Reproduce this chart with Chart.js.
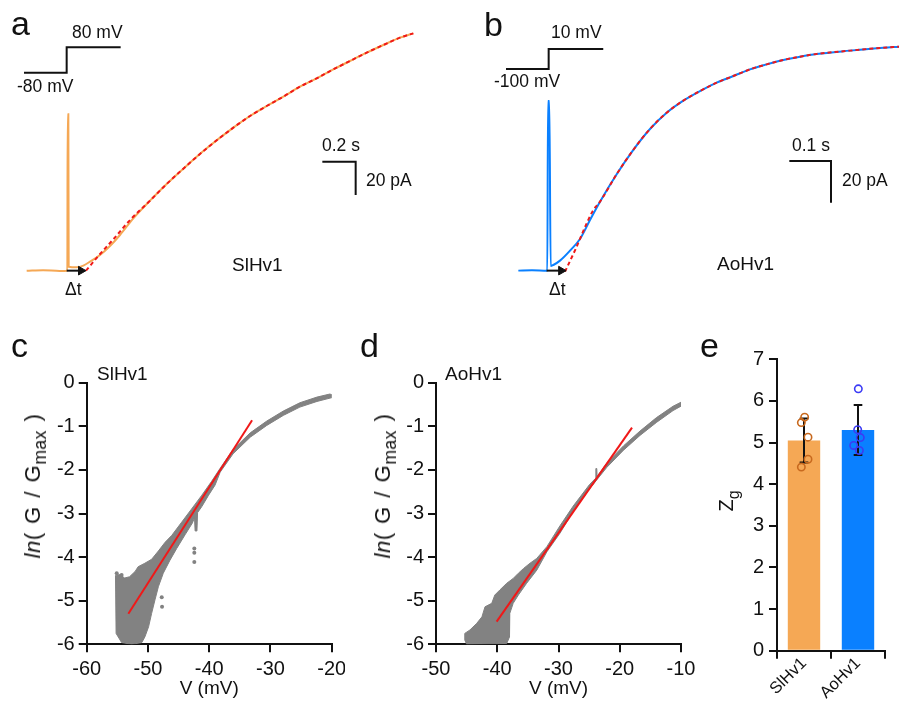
<!DOCTYPE html>
<html>
<head>
<meta charset="utf-8">
<script src="https://cdn.jsdelivr.net/npm/chart.js@4.4.1/dist/chart.umd.min.js"></script>
<style>
  body { margin: 0; background: #fff; width: 899px; height: 704px; position: relative; overflow: hidden;
         font-family: "Liberation Sans", Arial, sans-serif; color: #111; }
  canvas { position: absolute; }
  .t { position: absolute; white-space: nowrap; font-size: 17.5px; line-height: 1; transform: translateY(-50%); }
  .L { font-size: 34px; }
  .n { font-size: 19px; }
  .rot { transform: translate(-50%, -50%) rotate(-90deg); }
  .ylab { font-size: 22px; word-spacing: 2px; letter-spacing: 0.5px; }
  sub { font-size: 0.8em; vertical-align: -0.35em; line-height: 0; }
</style>
</head>
<body>
<canvas id="pa" width="440" height="310" style="left:0;top:0"></canvas>
<canvas id="pb" width="449" height="310" style="left:450px;top:0"></canvas>
<canvas id="pc" width="345" height="344" style="left:0;top:360px"></canvas>
<canvas id="pd" width="360" height="344" style="left:350px;top:360px"></canvas>
<canvas id="pe" width="209" height="374" style="left:690px;top:330px"></canvas>

<div class="t L" style="left:11px;top:23px">a</div>
<div class="t" style="left:72px;top:33px">80 mV</div>
<div class="t" style="left:17px;top:87px">-80 mV</div>
<div class="t" style="left:322px;top:146px">0.2 s</div>
<div class="t" style="left:366px;top:181px">20 pA</div>
<div class="t n" style="left:232px;top:264px">SlHv1</div>
<div class="t" style="left:65px;top:290px">Δt</div>

<div class="t L" style="left:484px;top:24px">b</div>
<div class="t" style="left:551px;top:33px">10 mV</div>
<div class="t" style="left:494px;top:82px">-100 mV</div>
<div class="t" style="left:792px;top:146px">0.1 s</div>
<div class="t" style="left:842px;top:181px">20 pA</div>
<div class="t n" style="left:717px;top:263px">AoHv1</div>
<div class="t" style="left:549px;top:290px">Δt</div>

<div class="t L" style="left:11px;top:345px">c</div>
<div class="t n" style="left:97px;top:373px">SlHv1</div>
<div class="t rot ylab" style="left:33px;top:486px"><i>ln</i>( G / G<sub>max</sub> )</div>

<div class="t L" style="left:360px;top:345px">d</div>
<div class="t n" style="left:445px;top:373px">AoHv1</div>
<div class="t rot ylab" style="left:383px;top:486px"><i>ln</i>( G / G<sub>max</sub> )</div>

<div class="t L" style="left:700px;top:345px">e</div>
<div class="t rot" style="left:726px;top:501px;font-size:20px">Z<sub>g</sub></div>

<script>
// ---- a: SlHv1 current trace (s, pA)
const slTime = [-0.248, -0.15, -0.05, -0.004, -0.002, 0.002, 0.004, 0.052, 0.092, 0.132, 0.192, 0.252, 0.312,
  0.392, 0.492, 0.592, 0.712, 0.832, 0.992, 1.092, 1.192, 1.292, 1.392, 1.492, 1.592, 1.692, 1.792, 1.892, 1.992, 2.072];
const slCurrent = [0, 0.3, -0.2, 0, 93.8, 93.8, 2.4, 2.0, 3.0, 5.4, 9.4, 14.8, 21.4,
  31.4, 42, 52, 63, 73.4, 85.8, 92.8, 98.8, 104.4, 110.4, 115.4, 120.8, 125.8, 130.8, 135.4, 139.8, 142.4];
const slFitTime = [0.108, 0.192, 0.272, 0.372, 0.492, 0.592, 0.712, 0.832, 0.992, 1.092, 1.192, 1.292,
  1.392, 1.492, 1.592, 1.692, 1.792, 1.892, 1.992, 2.072];
const slFitCurrent = [0, 10, 18.8, 30.4, 42, 52, 63, 73.4, 85.8, 92.8, 98.8, 104.4,
  110.4, 115.4, 120.8, 125.8, 130.8, 135.4, 139.8, 142.4];
const slStepTime = [-0.264, -0.008, -0.008, 0.316];
const slStepLevel = [118.8, 118.8, 134.0, 134.0];
const slBarTime = [1.526, 1.726, 1.726];
const slBarCurrent = [65.4, 65.4, 45.4];
const slArrowTime = [-0.008, 0.078];

// ---- b: AoHv1 current trace (s, pA)
const aoTime = [-0.0728, -0.04, -0.0032, -0.0016, 0.0016, 0.0048, 0.0112, 0.0272, 0.0512, 0.0752, 0.0992, 0.1232,
  0.1632, 0.2032, 0.2432, 0.2832, 0.3232, 0.3632, 0.4032, 0.4432, 0.4832, 0.5232, 0.5632, 0.6032, 0.6432, 0.7232, 0.8032, 0.8408];
const aoCurrent = [0, 0.2, 0, 81.4, 81.4, 2.2, 2.7, 4.8, 9.6, 15.2, 24.3, 33.1,
  46.3, 58.0, 68.0, 75.8, 81.6, 86.2, 90.2, 93.4, 96.6, 99.0, 101.1, 102.7, 104.0, 105.6, 107.0, 107.5];
const aoFitTime = [0.0392, 0.0672, 0.0912, 0.1072, 0.1232, 0.1632, 0.2032, 0.2432, 0.2832, 0.3232, 0.3632, 0.4032,
  0.4432, 0.4832, 0.5232, 0.5632, 0.6032, 0.6432, 0.7232, 0.8032, 0.8408];
const aoFitCurrent = [-0.5, 11.5, 22.7, 29.1, 33.1, 46.3, 58.0, 68.0, 75.8, 81.6, 86.2, 90.2,
  93.4, 96.6, 99.0, 101.1, 102.7, 104.0, 105.6, 107.0, 107.5];
const aoStepTime = [-0.1024, 0, 0, 0.131];
const aoStepLevel = [96.8, 96.8, 106.4, 106.4];
const aoBarTime = [0.5776, 0.6776, 0.6776];
const aoBarCurrent = [52.64, 52.64, 32.64];
const aoArrowTime = [-0.005, 0.03];

// ---- c: SlHv1 ln(G/Gmax) vs V, outline of the point cloud
const slCloudV = [-55.3, -54.6, -53.8, -53.0, -52.1, -51.6, -50.5, -49.4, -48.3, -47.2, -46.1, -44.5, -42.9, -41.2,
  -39.6, -38.2, -36.1, -33.3, -30.6, -27.9, -25.2, -22.4, -20.3, -19.9,
  -19.9, -22.4, -25.2, -27.9, -30.6, -33.3, -36.1, -38.2, -39.05, -40.1, -41.2, -41.9, -42.0, -42.3, -42.4,
  -42.75, -43.95, -45.3, -46.4, -47.5, -48.3, -48.85, -49.4, -49.9, -50.5, -51.0, -52.65, -54.3, -55.2, -55.3];
const slCloudLnG = [-4.42, -4.40, -4.48, -4.45, -4.33, -4.22, -4.14, -4.05, -3.86, -3.66, -3.50, -3.20, -2.90, -2.58,
  -2.26, -1.96, -1.53, -1.15, -0.88, -0.65, -0.46, -0.33, -0.26, -0.28,
  -0.34, -0.43, -0.56, -0.75, -0.98, -1.25, -1.63, -2.05, -2.35, -2.58, -2.84, -2.98, -3.40, -3.40, -3.10,
  -3.22, -3.49, -3.80, -4.07, -4.37, -4.68, -4.98, -5.29, -5.60, -5.83, -5.96, -6.0, -5.96, -5.75, -4.42];
const slDotsV = [-42.43, -42.43, -42.43, -47.75, -47.7, -55.1, -54.3];
const slDotsLnG = [-3.80, -3.90, -4.11, -4.92, -5.14, -4.37, -4.41];
const slLineV = [-53.2, -33.0];
const slLineLnG = [-5.30, -0.86];

// ---- d: AoHv1 ln(G/Gmax) vs V
const aoCloudV = [-45.3, -44.45, -43.35, -42.5, -42.0, -40.9, -40.4, -39.55, -38.45, -37.4, -36.55, -35.7, -34.65, -33.55,
  -31.9, -29.75, -27.6, -24.9, -24.0, -23.9, -23.75, -23.7, -22.1, -19.4, -16.7, -14.0, -11.3, -9.9,
  -9.9, -11.3, -14.0, -16.7, -19.4, -22.1, -24.9, -27.6, -29.75, -31.9, -33.55, -35.2, -36.55, -37.4, -37.95,
  -38.0, -38.0, -38.45, -45.0, -45.3, -45.3];
const aoCloudLnG = [-5.75, -5.67, -5.52, -5.37, -5.14, -5.06, -4.87, -4.75, -4.60, -4.49, -4.37, -4.26, -4.14, -4.03,
  -3.76, -3.28, -2.83, -2.33, -2.20, -1.97, -1.97, -2.15, -1.84, -1.45, -1.11, -0.80, -0.54, -0.44,
  -0.53, -0.64, -0.91, -1.21, -1.55, -1.94, -2.43, -2.95, -3.45, -3.88, -4.30, -4.60, -4.87, -5.06, -5.29,
  -5.52, -5.83, -5.98, -6.0, -5.9, -5.75];
const aoLineV = [-40.1, -18.0];
const aoLineLnG = [-5.48, -1.03];

// ---- e: gating charge
const zCategories = ['SlHv1', 'AoHv1'];
const zMean = [5.05, 5.30];
const zSd = [0.53, 0.60];
const slZg = [5.61, 5.48, 5.13, 4.60, 4.41];
const slJitter = [0.012, -0.049, 0.074, 0.074, -0.049];
const aoZg = [6.29, 5.31, 5.12, 4.93, 4.81];
const aoJitter = [0.006, -0.006, 0.043, -0.08, 0.025];

const INK = '#111';
const ORANGE = '#f5a855';
const BLUE = '#0a80ff';
const RED = '#f01818';
const GRAY = '#828282';
const TICK_FONT = {size: 20};

Chart.defaults.font.family = "'Liberation Sans', Arial, sans-serif";
Chart.defaults.color = INK;

function pts(xs, ys) {
  return xs.map((x, i) => ({x, y: ys[i]}));
}

function line(data, color, width, extra) {
  return Object.assign({
    data, showLine: true, borderColor: color, backgroundColor: color,
    borderWidth: width, pointRadius: 0, tension: 0, fill: false,
  }, extra);
}

function baseOptions(scales, padding) {
  return {
    responsive: false, animation: false, events: [],
    layout: {padding, autoPadding: false},
    plugins: {legend: {display: false}, tooltip: {enabled: false}},
    scales,
  };
}

function traceChart(id, xr, yr, datasets) {
  return new Chart(document.getElementById(id), {
    type: 'scatter',
    data: {datasets},
    options: baseOptions({
      x: {type: 'linear', display: false, min: xr[0], max: xr[1]},
      y: {type: 'linear', display: false, min: yr[0], max: yr[1]},
    }, 0),
  });
}

function arrowHead(t) {
  return {data: [{x: t, y: 0}], pointStyle: 'triangle', rotation: 90, pointRadius: 5,
    backgroundColor: INK, borderColor: INK, borderWidth: 1, order: 0};
}

const smooth = {cubicInterpolationMode: 'monotone'};

traceChart('pa', [-0.408, 2.232], [-23.6, 162.4], [
  line(pts(slTime, slCurrent), ORANGE, 2, {order: 3, ...smooth}),
  line(pts(slFitTime, slFitCurrent), RED, 2, {borderDash: [4, 3], order: 2, ...smooth}),
  line(pts(slStepTime, slStepLevel), INK, 2, {order: 1}),
  line(pts(slBarTime, slBarCurrent), INK, 2, {order: 1}),
  line(pts(slArrowTime, [0, 0]), INK, 2, {order: 1}),
  arrowHead(slArrowTime[1]),
]);

traceChart('pb', [-0.2368, 0.8408], [-18.9, 129.9], [
  line(pts(aoTime, aoCurrent), BLUE, 2, {order: 3, ...smooth}),
  line(pts(aoFitTime, aoFitCurrent), RED, 2, {borderDash: [4, 3], order: 2, ...smooth}),
  line(pts(aoStepTime, aoStepLevel), INK, 2, {order: 1}),
  line(pts(aoBarTime, aoBarCurrent), INK, 2, {order: 1}),
  line(pts(aoArrowTime, [0, 0]), INK, 2, {order: 1}),
  arrowHead(aoArrowTime[1]),
]);

function axis(extra) {
  return Object.assign({
    type: 'linear',
    grid: {drawOnChartArea: false, drawTicks: true, tickLength: 8, lineWidth: 2, color: INK},
    border: {display: true, color: INK, width: 2},
    ticks: {color: INK, font: TICK_FONT, padding: 4},
  }, extra);
}

function fitX(h) {
  return s => { s.height = h; s.paddingLeft = 0; s.paddingRight = 0; };
}
function fitY(w) {
  return s => { s.width = w; s.paddingTop = 0; s.paddingBottom = 0; };
}

function ivChart(id, xr, padding, datasets) {
  return new Chart(document.getElementById(id), {
    type: 'scatter',
    data: {datasets},
    options: baseOptions({
      x: axis({min: xr[0], max: xr[1], afterFit: fitX(56),
        ticks: {stepSize: 10, color: INK, font: TICK_FONT, padding: 5},
        title: {display: true, text: 'V (mV)', color: INK, font: {size: 19}, padding: 0}}),
      y: axis({min: -6, max: 0, afterFit: fitY(45),
        ticks: {stepSize: 1, color: INK, font: TICK_FONT, padding: 4}}),
    }, padding),
  });
}

ivChart('pc', [-60, -20], {left: 41.7, top: 22.7, right: 13.3, bottom: 3.7}, [
  line(pts(slLineV, slLineLnG), RED, 2, {order: 0}),
  line(pts(slCloudV, slCloudLnG), GRAY, 1, {fill: 'shape', order: 2}),
  {data: pts(slDotsV, slDotsLnG), pointRadius: 2, backgroundColor: GRAY, borderWidth: 0, order: 1},
]);

ivChart('pd', [-50, -10], {left: 41, top: 22.7, right: 29, bottom: 3.7}, [
  line(pts(aoLineV, aoLineLnG), RED, 2, {order: 0}),
  line(pts(aoCloudV, aoCloudLnG), GRAY, 1, {fill: 'shape', order: 2}),
]);

// error bars: caps and stems built from mean and sd
const CAP = 0.08;
function errorBar(i) {
  const hi = zMean[i] + zSd[i], lo = zMean[i] - zSd[i];
  return [
    {x: i - CAP, y: hi}, {x: i + CAP, y: hi}, {x: null, y: null},
    {x: i, y: hi}, {x: i, y: lo}, {x: null, y: null},
    {x: i - CAP, y: lo}, {x: i + CAP, y: lo},
  ];
}

function dots(values, jitter, i, color) {
  return {type: 'scatter', xAxisID: 'x2', data: values.map((v, k) => ({x: i + jitter[k], y: v})),
    pointRadius: 3.7, borderWidth: 1.6, borderColor: color, backgroundColor: 'rgba(0,0,0,0)', order: 0};
}

new Chart(document.getElementById('pe'), {
  type: 'bar',
  data: {
    labels: zCategories,
    datasets: [
      {data: zMean, backgroundColor: [ORANGE, BLUE], borderWidth: 0, grouped: false,
        barPercentage: 0.6, categoryPercentage: 1.0, order: 2},
      dots(slZg, slJitter, 0, '#c8691e'),
      dots(aoZg, aoJitter, 1, '#3b3bf5'),
      {type: 'scatter', xAxisID: 'x2', data: errorBar(0), showLine: true, spanGaps: false,
        borderColor: INK, borderWidth: 2, pointRadius: 0, order: 1},
      {type: 'scatter', xAxisID: 'x2', data: errorBar(1), showLine: true, spanGaps: false,
        borderColor: INK, borderWidth: 2, pointRadius: 0, order: 1},
    ],
  },
  options: baseOptions({
    x: axis({type: 'category', offset: true, afterFit: fitX(50),
      grid: {offset: true, drawOnChartArea: false, drawTicks: true, tickLength: 8, lineWidth: 2, color: INK},
      ticks: {color: INK, font: {size: 16.5}, padding: -5, minRotation: 45, maxRotation: 45}}),
    x2: {type: 'linear', display: false, offset: false, grid: {offset: false}, min: -0.5, max: 1.5},
    y: axis({min: 0, max: 7, afterFit: fitY(40),
      ticks: {stepSize: 1, color: INK, font: TICK_FONT, padding: 5}}),
  }, {left: 47, top: 29.3, right: 14, bottom: 3.3}),
});
</script>
</body>
</html>
